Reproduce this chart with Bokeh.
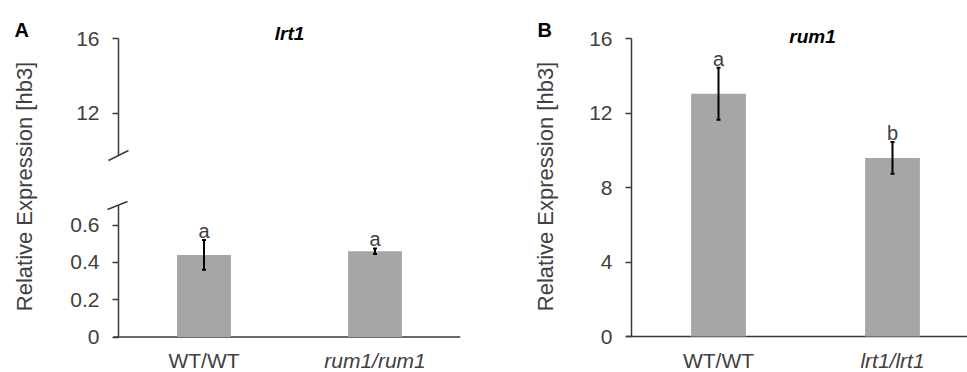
import math
from bokeh.plotting import figure
from bokeh.models import (Range1d, FixedTicker, Label, Arrow, Whisker, TeeHead,
                          ColumnDataSource, LinearAxis)
from bokeh.layouts import row
from bokeh.embed import file_html
from bokeh.resources import INLINE
from bokeh.core.properties import value

# ---------------- data ----------------
panel_a_letter = "A"
a_title = "lrt1"
a_categories = ["WT/WT", "rum1/rum1"]
a_italic = [False, True]
a_values = [0.44, 0.46]
a_errors = [0.08, 0.015]
a_letters = ["a", "a"]
a_upper_ticks = [12, 16]
a_upper_tick_labels = ["12", "16"]
a_lower_ticks = [0, 0.2, 0.4, 0.6]
a_lower_tick_labels = ["0", "0.2", "0.4", "0.6"]

panel_b_letter = "B"
b_title = "rum1"
b_categories = ["WT/WT", "lrt1/lrt1"]
b_italic = [False, True]
b_values = [13.05, 9.6]
b_errors = [1.4, 0.85]
b_letters = ["a", "b"]
b_ticks = [0, 4, 8, 12, 16]
b_tick_labels = ["0", "4", "8", "12", "16"]

y_label = "Relative Expression [hb3]"

# ---------------- style / geometry ----------------
FONT = "Liberation Sans"
TXT = "#404040"
AXIS = "#3a3a3a"
BAR = "#a6a6a6"
BAR_W = 0.315
H = 372
BORDER_L = 14
XLAB_BASE = 360          # canvas y of the category labels' baseline


def make_fig(fw, xr, yr, mbr):
    p = figure(frame_width=fw, frame_height=H, x_range=xr, y_range=yr,
               x_axis_type=None, y_axis_type=None,
               toolbar_location=None, output_backend="svg",
               min_border_left=BORDER_L, min_border_right=mbr,
               min_border_top=0, min_border_bottom=0)
    p.outline_line_color = None
    p.background_fill_color = "white"
    p.border_fill_color = "white"
    return p


def y_axis(ticks, bounds, range_name="default", inward=False):
    # ticks drawn as (label-less) minor ticks; labels are drawn as text below
    return LinearAxis(ticker=FixedTicker(ticks=[], minor_ticks=ticks), bounds=bounds,
                      fixed_location=0, y_range_name=range_name,
                      axis_line_color=AXIS, axis_line_width=1.5,
                      major_tick_line_color=None,
                      minor_tick_line_color=AXIS, minor_tick_line_width=1.5,
                      minor_tick_out=0 if inward else 6, minor_tick_in=6 if inward else 0,
                      major_label_standoff=0)


def tick_labels(p, ticks, labels, px_per_x, range_name="default"):
    src = ColumnDataSource(dict(y=ticks, t=labels, x=[-19 / px_per_x] * len(ticks)))
    p.text(x="x", y="y", text="t", source=src, y_range_name=range_name,
           text_font=value(FONT), text_font_size="21px", text_color=TXT,
           text_align="right", text_baseline="middle")


def bars(p, cats, italic, vals, errs, letters, px_x, px_y, zero_y, x_end):
    xs = [i + 0.5 for i in range(len(cats))]
    up = [v + e for v, e in zip(vals, errs)]
    lo = [v - e for v, e in zip(vals, errs)]
    src = ColumnDataSource(dict(x=xs, top=vals, upper=up, lower=lo,
                                ly=[u + 9 / px_y for u in up], letter=letters))
    # category (x) axis line
    p.segment(x0=[-5 / px_x], y0=[0], x1=[x_end], y1=[0], line_color=AXIS, line_width=1.5)
    p.vbar(x="x", top="top", bottom=0, width=BAR_W, source=src,
           fill_color=BAR, line_color=None)
    p.add_layout(Whisker(base="x", upper="upper", lower="lower", source=src,
                         level="overlay", line_color="black", line_width=2,
                         upper_head=TeeHead(size=4, line_color="black", line_width=2),
                         lower_head=TeeHead(size=4, line_color="black", line_width=2)))
    p.text(x="x", y="ly", text="letter", source=src,
           text_font=value(FONT), text_font_size="20px", text_color=TXT,
           text_align="center", text_baseline="alphabetic")
    csrc = ColumnDataSource(dict(x=xs, y=[-(XLAB_BASE - zero_y) / px_y] * len(xs), t=cats,
                                 style=["italic" if it else "normal" for it in italic]))
    p.text(x="x", y="y", text="t", source=csrc, text_font=value(FONT),
           text_font_size="21px", text_color=TXT, text_font_style="style",
           text_align="center", text_baseline="alphabetic")


def side_texts(p, letter, lx, yl_x, title, tx, ty):
    p.add_layout(Label(x=lx, y=H - 29, x_units="screen", y_units="screen", text=letter,
                       text_font=FONT, text_font_size="20px", text_font_style="bold",
                       text_color="black", text_align="left", text_baseline="alphabetic"))
    p.add_layout(Label(x=yl_x, y=H - 186, x_units="screen", y_units="screen", text=y_label,
                       angle=math.pi / 2, text_font=FONT, text_font_size="22px",
                       text_color=TXT, text_align="center", text_baseline="middle"))
    p.add_layout(Label(x=tx, y=ty, x_units="screen", y_units="screen", text=title,
                       text_font=FONT, text_font_size="19px", text_font_style="bold italic",
                       text_color="black", text_align="center", text_baseline="alphabetic"))


# ---------------- panel A (broken axis) ----------------
A_AXIS = 118            # canvas x of the value axis
A_RIGHT = 460
A_PX = 171.0            # pixels per category
LPX, L_ZERO = 186.5, 336.5     # lower part: px per unit, canvas y of 0
UPX, U_16 = 18.6, 38.3         # upper part: px per unit, canvas y of 16
a_x0 = -(A_AXIS - BORDER_L) / A_PX
a_x1 = (A_RIGHT - A_AXIS) / A_PX
lo_end = L_ZERO / LPX
up_end = 16 + U_16 / UPX

pa = make_fig(A_RIGHT - BORDER_L, Range1d(a_x0, a_x1),
              Range1d(lo_end - H / LPX, lo_end), 20)
pa.extra_y_ranges = {"upper": Range1d(up_end - H / UPX, up_end)}

pa.add_layout(y_axis(a_lower_ticks, (0, (L_ZERO - 205) / LPX)), "left")
pa.add_layout(y_axis(a_upper_ticks, (up_end - 155 / UPX, 16), "upper", inward=True), "right")
tick_labels(pa, a_lower_ticks, a_lower_tick_labels, A_PX)
tick_labels(pa, a_upper_ticks, a_upper_tick_labels, A_PX, "upper")
bars(pa, a_categories, a_italic, a_values, a_errors, a_letters, A_PX, LPX, L_ZERO, a_x1)
side_texts(pa, panel_a_letter, 0, 24 - BORDER_L, a_title, 289 - BORDER_L, H - 33)

# axis-break marks
pa.add_layout(Arrow(end=None, x_start=-10 / A_PX, y_start=up_end - 160 / UPX,
                    x_end=10 / A_PX, y_end=up_end - 150 / UPX, y_range_name="upper",
                    line_color=AXIS, line_width=1.5))
pa.add_layout(Arrow(end=None, x_start=-11 / A_PX, y_start=(L_ZERO - 209) / LPX,
                    x_end=9 / A_PX, y_end=(L_ZERO - 201) / LPX,
                    line_color=AXIS, line_width=1.5))

# ---------------- panel B ----------------
B_LEFT = 480
B_AXIS = 631
B_RIGHT = 967
B_PX = 174.0
B_ZERO, B_16 = 336.0, 38.3
BPX = (B_ZERO - B_16) / 16
b_x0 = -(B_AXIS - B_LEFT - BORDER_L) / B_PX
b_x1 = (B_RIGHT - B_AXIS) / B_PX
b_end = 16 + B_16 / BPX

pb = make_fig(B_RIGHT - B_LEFT - BORDER_L, Range1d(b_x0, b_x1),
              Range1d(b_end - H / BPX, b_end), 0)
pb.add_layout(y_axis(b_ticks, (0, 16)), "left")
tick_labels(pb, b_ticks, b_tick_labels, B_PX)
bars(pb, b_categories, b_italic, b_values, b_errors, b_letters, B_PX, BPX, B_ZERO, b_x1)
fl = B_LEFT + BORDER_L
side_texts(pb, panel_b_letter, 537 - fl, 545 - fl, b_title, 812 - fl, H - 36)

layout = row(pa, pb)

open("out.html", "w").write(file_html(layout, INLINE))
